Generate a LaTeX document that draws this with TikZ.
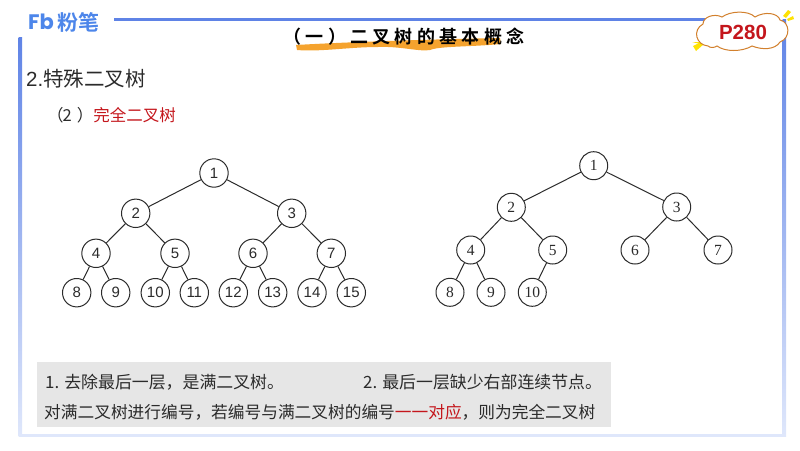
\documentclass[tikz,border=0pt]{standalone}
\usepackage{fontspec}
\setmainfont{Liberation Sans}
\newfontfamily\cjk{Noto Sans CJK SC}
\newfontfamily\cjkb{Noto Sans CJK SC Bold}
\newfontfamily\treeserif{Liberation Serif}
\newfontfamily\logofont{Poppins Bold}
\definecolor{framea}{HTML}{5F83E6}
\definecolor{frameb}{HTML}{B9CAF6}
\definecolor{framec}{HTML}{DFE7FB}
\definecolor{redtxt}{HTML}{C4161C}
\definecolor{logoblue}{HTML}{4D86EA}
\definecolor{brush}{HTML}{F5A32E}
\definecolor{boxgrey}{HTML}{E6E6E6}
\definecolor{inkdark}{HTML}{2B2B2B}
\tikzset{
  lnode/.style={circle,draw=inkdark,fill=white,line width=1pt,minimum size=28.4pt,inner sep=0pt,font=\fontsize{15}{16}\selectfont,text=inkdark},
  rnode/.style={circle,draw=inkdark,fill=white,line width=1pt,minimum size=28pt,inner sep=0pt,font=\treeserif\fontsize{15.5}{16}\selectfont,text=inkdark},
  edge/.style={draw=inkdark,line width=1pt},
  label/.style={anchor=west,inner sep=0pt,text=inkdark},
}
\begin{document}
\begin{tikzpicture}[x=1pt,y=-1pt]
\useasboundingbox (0,0) rectangle (800,450);
% frame
\fill[framea] (114,17.5) rectangle (770,21);
\shade[top color=framea,middle color=frameb,bottom color=framec] (18.5,37) rectangle (22,436);
\shade[top color=framea,middle color=frameb,bottom color=framec] (782.5,19) rectangle (786,436);
\fill[framec] (18.5,433.5) rectangle (786,436.5);
% logo
\node[anchor=west,inner sep=0pt,text=logoblue] (logoa) at (28,22) {\logofont\fontsize{21}{22}\selectfont Fb};
\node[anchor=west,inner sep=0pt,text=logoblue] (logob) at (57,22) {\cjkb\fontsize{21}{22}\selectfont 粉笔};
% title
\fill[brush] (296,45) .. controls (330,43) and (400,40) .. (500,38)
  -- (501,44) .. controls (470,47) and (440,46) .. (430,50)
  .. controls (420,52) and (400,46) .. (378,47)
  .. controls (350,47) and (320,52) .. (297,50) -- cycle;
\node[inner sep=0pt,text=black] (title) at (404,37) {\cjkb\addfontfeatures{LetterSpace=24}\fontsize{18}{19}\selectfont （一）二叉树的基本概念};
% cloud
\fill[yellow!85!orange] (693,46) -- (703,41) -- (704,44) -- (696,51) -- cycle;
\fill[yellow!85!orange] (692,42) -- (700,42) -- (700,44) -- cycle;
\fill[yellow!85!orange] (783,16) -- (788,10) -- (791,12) -- (786,18) -- cycle;
\fill[yellow!85!orange] (787,19) -- (793,16) -- (794,19) -- (788,21) -- cycle;
\draw[draw=brown!70!orange,fill=white,line width=1pt] (708,46)
  .. controls (696,45) and (692,30) .. (703,24)
  .. controls (703,17) and (714,13) .. (722,17)
  .. controls (730,11) and (748,10) .. (755,17)
  .. controls (765,11) and (778,13) .. (780,20)
  .. controls (790,22) and (791,38) .. (780,42)
  .. controls (775,50) and (762,50) .. (752,46)
  .. controls (742,52) and (725,52) .. (717,46)
  .. controls (714,48) and (710,48) .. (708,46) -- cycle;
\node[inner sep=0pt,text=redtxt] (page) at (743,32) {\fontsize{20.5}{21}\selectfont\bfseries P280};
% headings
\node[label] (head) at (26,79) {\fontsize{20.5}{21}\selectfont 2.\cjk 特殊二叉树};
\node[label] (sub) at (47,115) {\cjk\fontsize{16.5}{17}\selectfont （\kern-1pt{}2\kern5pt{}）\textcolor{redtxt}{完全二叉树}};
% left tree
\node[lnode] (l1) at (214,173) {1};
\node[lnode] (l2) at (135.7,213.3) {2};
\node[lnode] (l3) at (291.7,213.3) {3};
\node[lnode] (l4) at (96,253.3) {4};
\node[lnode] (l5) at (175,253.3) {5};
\node[lnode] (l6) at (253,253.3) {6};
\node[lnode] (l7) at (331.3,253.3) {7};
\node[lnode] (l8) at (76.7,292.7) {8};
\node[lnode] (l9) at (115.7,292.7) {9};
\node[lnode] (l10) at (155.3,292.7) {10};
\node[lnode] (l11) at (194.3,292.7) {11};
\node[lnode] (l12) at (233.3,292.7) {12};
\node[lnode] (l13) at (272.7,292.7) {13};
\node[lnode] (l14) at (312,292.7) {14};
\node[lnode] (l15) at (351.3,292.7) {15};
\foreach \a/\b in {1/2,1/3,2/4,2/5,3/6,3/7,4/8,4/9,5/10,5/11,6/12,6/13,7/14,7/15}
  \draw[edge] (l\a) -- (l\b);
% right tree
\node[rnode] (r1) at (593.7,165.7) {1};
\node[rnode] (r2) at (511.3,207.3) {2};
\node[rnode] (r3) at (676.7,207) {3};
\node[rnode] (r4) at (470.7,250) {4};
\node[rnode] (r5) at (552.7,250) {5};
\node[rnode] (r6) at (635,250) {6};
\node[rnode] (r7) at (718,250) {7};
\node[rnode] (r8) at (450,292.3) {8};
\node[rnode] (r9) at (491,292.3) {9};
\node[rnode] (r10) at (532.3,292.3) {10};
\foreach \a/\b in {1/2,1/3,2/4,2/5,3/6,3/7,4/8,4/9,5/10}
  \draw[edge] (r\a) -- (r\b);
% note box
\fill[boxgrey] (37,362) rectangle (611,427);
\node[label] (n1) at (45,382) {\cjk\fontsize{16.9}{17}\selectfont 1. 去除最后一层，是满二叉树。};
\node[label] (n2) at (363,382) {\cjk\fontsize{16.9}{17}\selectfont 2. 最后一层缺少右部连续节点。};
\node[label] (n3) at (44,412) {\cjk\fontsize{16.7}{17}\selectfont 对满二叉树进行编号，若编号与满二叉树的编号\textcolor{redtxt}{一一对应}，则为完全二叉树};
\end{tikzpicture}
\end{document}
